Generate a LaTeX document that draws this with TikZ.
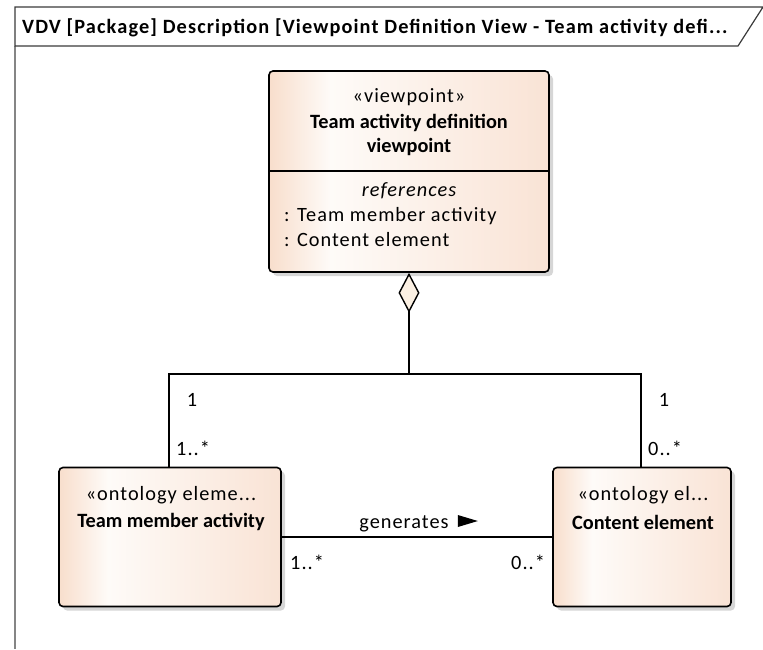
\documentclass[tikz,border=0pt]{standalone}
\usepackage{fontspec}
\setmainfont{Carlito}
\newfontfamily\regfont[LetterSpace=5]{Carlito}
\newfontfamily\titlefont[LetterSpace=5.6]{Carlito}
\usetikzlibrary{arrows.meta,shadows}
\definecolor{peachL}{HTML}{F8DECC}
\definecolor{peachM}{HTML}{FEFBF8}
\definecolor{peachR}{HTML}{F9E3D5}
\definecolor{diafill}{HTML}{FBF0E3}
\definecolor{shadowc}{HTML}{D6D6D6}
\definecolor{framegray}{HTML}{858585}
\definecolor{tabline}{HTML}{3A3A3A}
\pgfdeclarehorizontalshading{umlshade}{100bp}{color(0bp)=(peachL); color(25bp)=(peachL); color(36bp)=(peachM); color(75bp)=(peachR); color(100bp)=(peachR)}
\begin{document}
\begin{tikzpicture}[x=1pt,y=-1pt,
  every node/.style={font=\fontsize{20.3}{24}\selectfont\regfont, inner sep=0pt, text=black},
  umlbox/.style={draw=black, line width=1.6pt, rounded corners=4pt, shading=umlshade,
    drop shadow={shadow xshift=4pt, shadow yshift=-4pt, fill=shadowc, opacity=1}},
  boldtxt/.style={font=\fontsize{20.3}{24}\selectfont\bfseries},
  mult/.style={anchor=west},
  conn/.style={line width=1.6pt, draw=black}
]
\useasboundingbox (0,0) rectangle (763,649);
% frame
\draw[framegray, line width=1.5pt] (15,46) -- (15,649);
\draw[tabline, line width=1.2pt] (15,46) -- (15,7) -- (763,7) -- (738,46) -- cycle;
\node[anchor=west, font=\fontsize{20.3}{24}\selectfont\titlefont\bfseries] (title) at (22,28) {VDV [Package] Description [Viewpoint Definition View - Team activity defi...};

% boxes
\node[umlbox, minimum width=280pt, minimum height=201pt] (vp) at (409,171.5) {};
\node[umlbox, minimum width=222pt, minimum height=139pt] (tma) at (170,537) {};
\node[umlbox, minimum width=178pt, minimum height=139pt] (ce) at (642,537) {};
\draw[conn] (vp.west |- 0,171) -- (vp.east |- 0,171);

% top box text
\node (vpst) at (409,97) {«viewpoint»};
\node[boldtxt] (vpn1) at (409,123) {Team activity definition};
\node[boldtxt] (vpn2) at (409,147) {viewpoint};
\node (vpref) at (409,191) {\itshape references};
\node[anchor=west] (vpr1) at (284,216) {: Team member activity};
\node[anchor=west] (vpr2) at (284,240) {: Content element};

% lower box texts
\node (tmast) at (171,495) {«ontology eleme...};
\node[boldtxt] (tman) at (171,522) {Team member activity};
\node (cest) at (643,495) {«ontology el...};
\node[boldtxt] (cen) at (643,522) {Content element};

% aggregation
\coordinate (j) at (409,374);
\coordinate (tmatop) at (169,467.5);
\coordinate (cetop) at (641,467.5);
\draw[conn, {Diamond[length=40pt, width=21pt, fill=diafill, line width=1.4pt]}-] (vp.south) -- (j);
\draw[conn] (j) -| (tmatop);
\draw[conn] (j) -| (cetop);

% generates
\draw[conn] (tma.east) -- (ce.west);
\node (gen) at (404,524) {generates};
\fill (gen.east) ++(9,-9) coordinate (g1) -- ++(20,6) -- ++(-20,6) -- cycle;

% multiplicities
\node (m1) at (192,400) {1};
\node[mult] (m2) at (176,448) {1..*};
\node (m3) at (664,400) {1};
\node[mult] (m4) at (648,448) {0..*};
\node[mult] (m5) at (290,562) {1..*};
\node[mult] (m6) at (511,562) {0..*};
\end{tikzpicture}
\end{document}
